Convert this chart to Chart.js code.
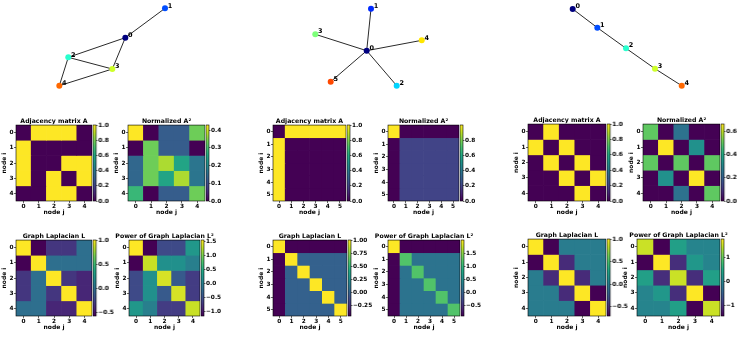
<!DOCTYPE html>
<html>
<head>
<meta charset="utf-8">
<script src="https://cdn.jsdelivr.net/npm/chart.js@4.4.0/dist/chart.umd.min.js"></script>
<style>
  html, body { margin: 0; padding: 0; background: #fff; }
  #fig { position: relative; width: 740px; height: 342px; overflow: hidden; }
  #fig canvas { position: absolute; }
</style>
</head>
<body>
<div id="fig"></div>
<script>
// ---- graph layouts (node positions in layout units) and edges ----
var nodes1 = [[0.223, 0.231], [0.913, 0.922], [-0.769, -0.231], [-0.003, -0.506], [-0.925, -0.899]];
var edges1 = [[0, 1], [0, 2], [0, 3], [2, 3], [2, 4], [3, 4]];

var nodes2 = [[-0.014, -0.075], [0.061, 0.913], [0.508, -0.899], [-0.908, 0.311], [0.943, 0.169], [-0.640, -0.805]];
var edges2 = [[0, 1], [0, 2], [0, 3], [0, 4], [0, 5]];

var nodes3 = [[-0.953, 0.906], [-0.525, 0.466], [-0.026, -0.019], [0.478, -0.499], [0.943, -0.899]];
var edges3 = [[0, 1], [1, 2], [2, 3], [3, 4]];

// ---- matrices ----
var adj1 = [
    [0, 1, 1, 1, 0],
    [1, 0, 0, 0, 0],
    [1, 0, 0, 1, 1],
    [1, 0, 1, 0, 1],
    [0, 0, 1, 1, 0]
];
var adjSq1 = [
    [0.429, 0, 0.125, 0.125, 0.333],
    [0, 0.333, 0.125, 0.125, 0],
    [0.143, 0.333, 0.375, 0.25, 0.167],
    [0.143, 0.333, 0.25, 0.375, 0.167],
    [0.286, 0, 0.125, 0.125, 0.333]
];
var lap1 = [
    [1, -0.577, -0.333, -0.333, 0],
    [-0.577, 1, 0, 0, 0],
    [-0.333, 0, 1, -0.333, -0.408],
    [-0.333, 0, -0.333, 1, -0.408],
    [0, 0, -0.408, -0.408, 1]
];
var lapSq1 = [
    [1.556, -1.155, -0.556, -0.556, 0.272],
    [-1.155, 1.333, 0.192, 0.192, 0],
    [-0.556, 0.192, 1.389, -0.389, -0.680],
    [-0.556, 0.192, -0.389, 1.389, -0.680],
    [0.272, 0, -0.680, -0.680, 1.333]
];

var adj2 = [
    [0, 1, 1, 1, 1, 1],
    [1, 0, 0, 0, 0, 0],
    [1, 0, 0, 0, 0, 0],
    [1, 0, 0, 0, 0, 0],
    [1, 0, 0, 0, 0, 0],
    [1, 0, 0, 0, 0, 0]
];
var adjSq2 = [
    [1, 0, 0, 0, 0, 0],
    [0, 0.2, 0.2, 0.2, 0.2, 0.2],
    [0, 0.2, 0.2, 0.2, 0.2, 0.2],
    [0, 0.2, 0.2, 0.2, 0.2, 0.2],
    [0, 0.2, 0.2, 0.2, 0.2, 0.2],
    [0, 0.2, 0.2, 0.2, 0.2, 0.2]
];
var lap2 = [
    [1, -0.447, -0.447, -0.447, -0.447, -0.447],
    [-0.447, 1, 0, 0, 0, 0],
    [-0.447, 0, 1, 0, 0, 0],
    [-0.447, 0, 0, 1, 0, 0],
    [-0.447, 0, 0, 0, 1, 0],
    [-0.447, 0, 0, 0, 0, 1]
];
var lapSq2 = [
    [2, -0.894, -0.894, -0.894, -0.894, -0.894],
    [-0.894, 1.2, 0.2, 0.2, 0.2, 0.2],
    [-0.894, 0.2, 1.2, 0.2, 0.2, 0.2],
    [-0.894, 0.2, 0.2, 1.2, 0.2, 0.2],
    [-0.894, 0.2, 0.2, 0.2, 1.2, 0.2],
    [-0.894, 0.2, 0.2, 0.2, 0.2, 1.2]
];

var adj3 = [
    [0, 1, 0, 0, 0],
    [1, 0, 1, 0, 0],
    [0, 1, 0, 1, 0],
    [0, 0, 1, 0, 1],
    [0, 0, 0, 1, 0]
];
var adjSq3 = [
    [0.5, 0, 0.25, 0, 0],
    [0, 0.667, 0, 0.333, 0],
    [0.5, 0, 0.5, 0, 0.5],
    [0, 0.333, 0, 0.667, 0],
    [0, 0, 0.25, 0, 0.5]
];
var lap3 = [
    [1, -0.707, 0, 0, 0],
    [-0.707, 1, -0.5, 0, 0],
    [0, -0.5, 1, -0.5, 0],
    [0, 0, -0.5, 1, -0.707],
    [0, 0, 0, -0.707, 1]
];
var lapSq3 = [
    [1.5, -1.414, 0.354, 0, 0],
    [-1.414, 1.75, -1, 0.25, 0],
    [0.354, -1, 1.5, -1, 0.354],
    [0, 0.25, -1, 1.75, -1.414],
    [0, 0, 0.354, -1.414, 1.5]
];

// ---- colorbar tick labels ----
var ticksUnit = [0, 0.2, 0.4, 0.6, 0.8, 1.0];
var ticksAdjSq1 = [0, 0.1, 0.2, 0.3, 0.4];
var ticksLap1 = [-0.5, 0, 0.5, 1.0];
var ticksLapSq1 = [-1.0, -0.5, 0, 0.5, 1.0, 1.5];
var ticksAdjSq2 = [0, 0.2, 0.4, 0.6, 0.8];
var ticksLap2 = [-0.25, 0, 0.25, 0.5, 0.75, 1.0];
var ticksLapSq2 = [-0.5, 0, 0.5, 1.0, 1.5];
var ticksAdjSq3 = [0, 0.2, 0.4, 0.6];
var ticksLap3 = [-0.5, 0, 0.5, 1.0];
var ticksLapSq3 = [-1, 0, 1];

// ---- styles ----
Chart.defaults.font.family = "'DejaVu Sans', sans-serif";
Chart.defaults.color = '#000';

var jet5 = ['#00007f', '#004dff', '#29ffce', '#ceff29', '#ff6800'];
var jet6 = ['#00007f', '#002aff', '#00d4ff', '#7dff7a', '#ffe600', '#ff4800'];

var viridisStops = ['#440154', '#482475', '#414487', '#355f8d', '#2a788e', '#21918c',
    '#22a884', '#44bf70', '#7ad151', '#bddf26', '#fde725'];

var tickFont = {size: 5.8, weight: 'bold'};
var labelFont = {size: 6.0, weight: 'bold'};
var titleFont = {size: 6.2, weight: 'bold', lineHeight: 1.3};

function hexRgb(h) {
    return [parseInt(h.substr(1, 2), 16), parseInt(h.substr(3, 2), 16), parseInt(h.substr(5, 2), 16)];
}
function viridis(t) {
    t = Math.max(0, Math.min(1, t));
    var pos = t * (viridisStops.length - 1);
    var i = Math.min(Math.floor(pos), viridisStops.length - 2);
    var f = pos - i;
    var a = hexRgb(viridisStops[i]), b = hexRgb(viridisStops[i + 1]);
    return 'rgb(' + Math.round(a[0] + (b[0] - a[0]) * f) + ',' +
        Math.round(a[1] + (b[1] - a[1]) * f) + ',' +
        Math.round(a[2] + (b[2] - a[2]) * f) + ')';
}

var fig = document.getElementById('fig');
function makeCanvas(left, top, w, h) {
    var c = document.createElement('canvas');
    c.width = w;
    c.height = h;
    c.style.left = left + 'px';
    c.style.top = top + 'px';
    c.style.width = w + 'px';
    c.style.height = h + 'px';
    fig.appendChild(c);
    return c;
}

var framePlugin = {
    id: 'frame',
    afterDraw: function (chart) {
        var a = chart.chartArea, c = chart.ctx;
        c.save();
        c.strokeStyle = '#000';
        c.lineWidth = 0.6;
        c.strokeRect(a.left, a.top, a.right - a.left, a.bottom - a.top);
        c.restore();
    }
};

var nodeLabelPlugin = {
    id: 'nodeLabels',
    afterDatasetsDraw: function (chart) {
        var meta = chart.getDatasetMeta(0), c = chart.ctx;
        c.save();
        c.fillStyle = '#000';
        c.font = 'bold 6.5px "DejaVu Sans"';
        c.textAlign = 'center';
        c.textBaseline = 'middle';
        meta.data.forEach(function (pt, i) {
            c.fillText(String(i), pt.x + 5, pt.y - 2.5);
        });
        c.restore();
    }
};

function fmt(v, dec) {
    return v.toFixed(dec).replace('-', '\u2212');
}

function drawGraph(nodes, edges, colors, left) {
    var cv = makeCanvas(left - 10, 0, 145, 100);
    var datasets = [{
        data: nodes.map(function (p) { return {x: p[0], y: p[1]}; }),
        backgroundColor: colors,
        pointRadius: 3,
        borderWidth: 0,
        clip: false
    }];
    edges.forEach(function (e) {
        datasets.push({
            data: [{x: nodes[e[0]][0], y: nodes[e[0]][1]}, {x: nodes[e[1]][0], y: nodes[e[1]][1]}],
            showLine: true,
            borderColor: '#2a2a2a',
            borderWidth: 1,
            pointRadius: 0,
            clip: false
        });
    });
    new Chart(cv.getContext('2d'), {
        type: 'scatter',
        data: {datasets: datasets},
        options: {
            responsive: false,
            animation: false,
            layout: {padding: {left: 10, right: 20, top: 5, bottom: 10}},
            plugins: {legend: {display: false}, tooltip: {enabled: false}},
            scales: {
                x: {type: 'linear', min: -1, max: 1, display: false},
                y: {type: 'linear', min: -1, max: 1, display: false}
            }
        },
        plugins: [nodeLabelPlugin]
    });
}

function drawHeatmap(p) {
    var m = p.matrix, n = m.length;
    var flat = [].concat.apply([], m);
    var vmin = Math.min.apply(null, flat), vmax = Math.max.apply(null, flat);
    var idx = m.map(function (r, i) { return i; });

    var datasets = m.map(function (row, i) {
        return {
            data: row.map(function () { return [i - 0.5, i + 0.5]; }),
            backgroundColor: row.map(function (v) { return viridis((v - vmin) / (vmax - vmin)); }),
            borderWidth: 0,
            grouped: false,
            barPercentage: 1,
            categoryPercentage: 1
        };
    });

    var cv = makeCanvas(p.left - 15, p.top - 8, 15 + p.w + 15, 8 + p.h + 16);
    new Chart(cv.getContext('2d'), {
        type: 'bar',
        data: {labels: idx.map(String), datasets: datasets},
        options: {
            responsive: false,
            animation: false,
            layout: {padding: {left: 0, right: 0, top: 0, bottom: 1}},
            plugins: {
                legend: {display: false},
                tooltip: {enabled: false},
                title: {display: true, text: p.title, color: '#000', padding: 0, font: titleFont}
            },
            scales: {
                x: {
                    type: 'category', offset: true,
                    grid: {display: true, drawOnChartArea: false, offset: false, tickLength: 2, color: '#000', lineWidth: 0.6},
                    border: {display: false},
                    ticks: {color: '#000', font: tickFont, padding: 0, maxRotation: 0, autoSkip: false},
                    title: {display: true, text: 'node j', color: '#000', font: labelFont, padding: 0},
                    afterFit: function (s) { s.height = 15; }
                },
                y: {
                    type: 'linear', reverse: true, min: -0.5, max: n - 0.5,
                    afterBuildTicks: function (s) { s.ticks = idx.map(function (v) { return {value: v}; }); },
                    grid: {display: true, drawOnChartArea: false, tickLength: 2, color: '#000', lineWidth: 0.6},
                    border: {display: false},
                    ticks: {color: '#000', font: tickFont, padding: 0.5, callback: function (v) { return String(v); }},
                    title: {display: true, text: 'node i', color: '#000', font: labelFont, padding: 0},
                    afterFit: function (s) { s.width = 15; }
                },
                y2: {
                    type: 'linear', position: 'right', display: true,
                    grid: {display: false}, border: {display: false}, ticks: {display: false},
                    afterFit: function (s) { s.width = 15; }
                }
            }
        },
        plugins: [framePlugin]
    });

    // colorbar
    var cb = makeCanvas(p.cbLeft, p.top - 4, p.cbW + 22, p.h + 8);
    new Chart(cb.getContext('2d'), {
        type: 'bar',
        data: {
            labels: [''],
            datasets: [{
                data: [[vmin, vmax]],
                borderWidth: 0,
                barPercentage: 1,
                categoryPercentage: 1,
                backgroundColor: function (ctx) {
                    var area = ctx.chart.chartArea;
                    if (!area) return viridisStops[0];
                    var g = ctx.chart.ctx.createLinearGradient(0, area.bottom, 0, area.top);
                    viridisStops.forEach(function (c, i) { g.addColorStop(i / (viridisStops.length - 1), c); });
                    return g;
                }
            }]
        },
        options: {
            responsive: false,
            animation: false,
            layout: {padding: {left: 0, right: 0, top: 4, bottom: 4}},
            plugins: {legend: {display: false}, tooltip: {enabled: false}},
            scales: {
                x: {type: 'category', offset: true, display: false},
                y: {
                    type: 'linear', position: 'right', min: vmin, max: vmax,
                    afterBuildTicks: function (s) { s.ticks = p.ticks.map(function (v) { return {value: v}; }); },
                    grid: {display: true, drawOnChartArea: false, tickLength: 1.5, color: '#000', lineWidth: 0.6},
                    border: {display: false},
                    ticks: {color: '#000', font: tickFont, padding: 0.5, callback: function (v) { return fmt(v, p.dec); }},
                    afterFit: function (s) { s.width = 22; }
                }
            }
        },
        plugins: [framePlugin]
    });
}

drawGraph(nodes1, edges1, jet5, 55);
drawGraph(nodes2, edges2, jet6, 310);
drawGraph(nodes3, edges3, jet5, 570);

var heatmaps = [
    {matrix: adj1, title: 'Adjacency matrix A', ticks: ticksUnit, dec: 1, left: 16, top: 125, w: 76, h: 76, cbLeft: 93, cbW: 3.5},
    {matrix: adjSq1, title: 'Normalized A\u00b2', ticks: ticksAdjSq1, dec: 1, left: 128, top: 125, w: 77, h: 76, cbLeft: 206, cbW: 3},
    {matrix: lap1, title: 'Graph Laplacian L', ticks: ticksLap1, dec: 1, left: 16, top: 240, w: 76, h: 76, cbLeft: 93, cbW: 3.5},
    {matrix: lapSq1, title: 'Power of Graph Laplacian L\u00b2', ticks: ticksLapSq1, dec: 1, left: 129, top: 240, w: 71, h: 76, cbLeft: 201, cbW: 3},

    {matrix: adj2, title: 'Adjacency matrix A', ticks: ticksUnit, dec: 1, left: 273, top: 125, w: 73, h: 76, cbLeft: 347, cbW: 3},
    {matrix: adjSq2, title: 'Normalized A\u00b2', ticks: ticksAdjSq2, dec: 1, left: 388, top: 125, w: 71, h: 76, cbLeft: 460, cbW: 3},
    {matrix: lap2, title: 'Graph Laplacian L', ticks: ticksLap2, dec: 2, left: 273, top: 240, w: 74, h: 76, cbLeft: 348, cbW: 3},
    {matrix: lapSq2, title: 'Power of Graph Laplacian L\u00b2', ticks: ticksLapSq2, dec: 1, left: 388, top: 240, w: 72, h: 76, cbLeft: 461, cbW: 3},

    {matrix: adj3, title: 'Adjacency matrix A', ticks: ticksUnit, dec: 1, left: 528, top: 124, w: 78, h: 77, cbLeft: 607, cbW: 3.5},
    {matrix: adjSq3, title: 'Normalized A\u00b2', ticks: ticksAdjSq3, dec: 1, left: 643, top: 124, w: 77, h: 77, cbLeft: 721, cbW: 3.5},
    {matrix: lap3, title: 'Graph Laplacian L', ticks: ticksLap3, dec: 1, left: 528, top: 239, w: 78, h: 77, cbLeft: 607, cbW: 3.5},
    {matrix: lapSq3, title: 'Power of Graph Laplacian L\u00b2', ticks: ticksLapSq3, dec: 0, left: 637, top: 239, w: 83, h: 77, cbLeft: 721, cbW: 3}
];
heatmaps.forEach(drawHeatmap);
</script>
</body>
</html>
